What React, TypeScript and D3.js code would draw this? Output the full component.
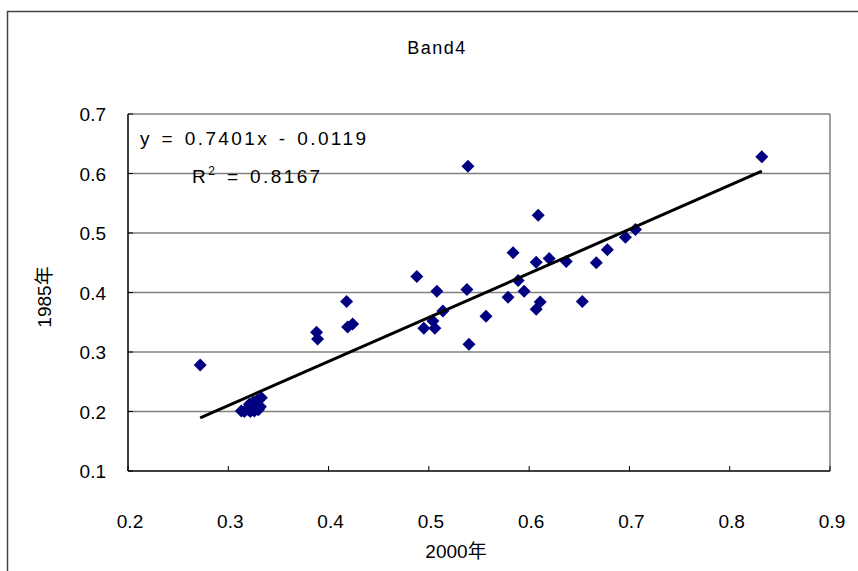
import React from "react";
import * as d3 from "d3";

const xValues = [
  0.272, 0.313, 0.316, 0.319, 0.322, 0.324, 0.326, 0.328, 0.330, 0.332, 0.321, 0.325, 0.329, 0.333,
  0.388, 0.389, 0.418, 0.419, 0.424,
  0.488, 0.495, 0.504, 0.506, 0.508, 0.514, 0.538, 0.539, 0.540, 0.557,
  0.579, 0.584, 0.589, 0.595, 0.607, 0.607, 0.609, 0.611, 0.620, 0.637, 0.653, 0.667, 0.678, 0.696, 0.706,
  0.832,
];
const yValues = [
  0.278, 0.201, 0.200, 0.204, 0.200, 0.206, 0.201, 0.209, 0.203, 0.208, 0.212, 0.216, 0.219, 0.223,
  0.333, 0.322, 0.385, 0.342, 0.347,
  0.427, 0.340, 0.352, 0.340, 0.402, 0.369, 0.405, 0.612, 0.313, 0.360,
  0.392, 0.467, 0.420, 0.402, 0.451, 0.372, 0.530, 0.384, 0.457, 0.452, 0.385, 0.450, 0.472, 0.493, 0.506,
  0.628,
];
const xTicks = [0.2, 0.3, 0.4, 0.5, 0.6, 0.7, 0.8, 0.9];
const yTicks = [0.1, 0.2, 0.3, 0.4, 0.5, 0.6, 0.7];
const slope = 0.7401;
const intercept = -0.0119;
const title = "Band4";
const xTitle = "2000年";
const yTitle = "1985年";

const W = 858, H = 571;
const left = 128, right = 830, top = 114, bottom = 471;
const font = "'Liberation Sans', Arial, sans-serif";
const cjk = "'Liberation Sans', 'Noto Sans CJK JP', sans-serif";

export default function App() {
  const x = d3.scaleLinear().domain([0.2, 0.9]).range([left, right]);
  const y = d3.scaleLinear().domain([0.1, 0.7]).range([bottom, top]);
  const xmin = d3.min(xValues)!, xmax = d3.max(xValues)!;
  const line = d3.line<number>().x((d) => x(d)).y((d) => y(slope * d + intercept));
  const pts = xValues.map((v, i) => [v, yValues[i]]);
  const s = 6.5;
  return (
    <div style={{ position: "fixed", left: 0, top: 0 }}>
      <svg width={W} height={H} style={{ display: "block", background: "#fff" }}>
        <rect x={7.5} y={11.5} width={900} height={700} fill="#fff" stroke="#444" strokeWidth={1.5} />
        {yTicks.filter((t) => t > 0.1).map((t) => (
          <line key={t} x1={left} x2={right} y1={y(t)} y2={y(t)} stroke="#808080" strokeWidth={1.5} />
        ))}
        <line x1={right} x2={right} y1={top} y2={bottom} stroke="#808080" strokeWidth={1.5} />
        <line x1={left} x2={left} y1={top} y2={bottom} stroke="#000" strokeWidth={1.5} />
        <line x1={left} x2={right} y1={bottom} y2={bottom} stroke="#000" strokeWidth={1.5} />
        {yTicks.map((t) => (
          <line key={t} x1={left} x2={left + 5} y1={y(t)} y2={y(t)} stroke="#000" strokeWidth={1} />
        ))}
        {xTicks.map((t) => (
          <line key={t} x1={x(t)} x2={x(t)} y1={bottom} y2={bottom - 5} stroke="#000" strokeWidth={1} />
        ))}
        {yTicks.map((t) => (
          <text key={t} x={106} y={y(t) + 7} textAnchor="end" fontFamily={font} fontSize={19}>
            {t.toFixed(1)}
          </text>
        ))}
        {xTicks.map((t) => (
          <text key={t} x={x(t) + 2} y={528} textAnchor="middle" fontFamily={font} fontSize={19}>
            {t.toFixed(1)}
          </text>
        ))}
        {pts.map(([a, b], i) => (
          <path
            key={i}
            d={`M${x(a)},${y(b) - s}L${x(a) + s},${y(b)}L${x(a)},${y(b) + s}L${x(a) - s},${y(b)}Z`}
            fill="#000080"
          />
        ))}
        <path d={line([xmin, xmax]) || ""} stroke="#000" strokeWidth={3} fill="none" />
        <text x={140} y={145} fontFamily={font} fontSize={19} letterSpacing={2.4} wordSpacing={2}>
          y = 0.7401x - 0.0119
        </text>
        <text x={192} y={183} fontFamily={font} fontSize={19} letterSpacing={2.4} wordSpacing={2}>
          R<tspan dy={-8} fontSize={12}>2</tspan><tspan dy={8}> = 0.8167</tspan>
        </text>
        <text x={437} y={54} textAnchor="middle" fontFamily={font} fontSize={18} letterSpacing={1.5}>
          {title}
        </text>
        <text x={456} y={558} textAnchor="middle" fontFamily={cjk} fontSize={19}>
          {xTitle}
        </text>
        <text transform={`translate(51,297) rotate(-90)`} textAnchor="middle" fontFamily={cjk} fontSize={19}>
          {yTitle}
        </text>
      </svg>
    </div>
  );
}
